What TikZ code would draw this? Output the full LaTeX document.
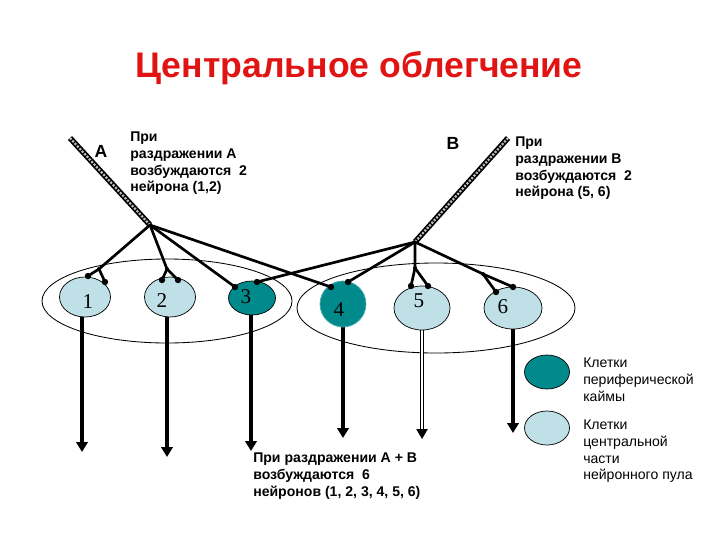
\documentclass[tikz,border=0pt]{standalone}
\usepackage{fontspec}
\setmainfont{Liberation Sans}
\newfontfamily\numfont{Liberation Serif}
\usetikzlibrary{shapes.geometric,arrows.meta}
\definecolor{tealc}{RGB}{0,138,140}
\definecolor{lightc}{RGB}{190,224,230}
\definecolor{titlered}{RGB}{225,20,20}
\begin{document}
\begin{tikzpicture}[x=0.025cm,y=-0.025cm,
  neur/.style n args={3}{ellipse, draw=black, line width=0.5pt, fill=#3,
     minimum width=#1*0.025cm, minimum height=#2*0.025cm, inner sep=0pt},
  pool/.style n args={2}{ellipse, draw=black, line width=0.6pt,
     minimum width=#1*0.025cm, minimum height=#2*0.025cm, inner sep=0pt},
  dotn/.style={circle, fill=black, inner sep=0pt, minimum size=0.16cm},
  forkn/.style={circle, fill=black, inner sep=0pt, minimum size=0.1cm},
  conn/.style={line width=1.9pt, line cap=round},
  axon/.style={line width=2.8pt, -{Triangle[width=8pt,length=7pt]}},
  fiberout/.style={line width=4pt},
  fiberin/.style={line width=1.6pt, gray!50, dash pattern=on 1.5pt off 1pt},
  num/.style={font=\numfont\fontsize{15}{15}\selectfont, inner sep=0pt},
  info/.style={font=\bfseries\fontsize{10}{11.8}\selectfont, align=left, anchor=north west, inner sep=0pt},
  legtxt/.style={font=\fontsize{10}{11.8}\selectfont, align=left, anchor=north west, inner sep=0pt},
  letter/.style={font=\bfseries\fontsize{12.5}{12.5}\selectfont, inner sep=0pt}
]
\useasboundingbox (0,0) rectangle (720,540);

% title
\node[font=\bfseries\fontsize{25.3}{30}\selectfont, text=titlered] (title) at (359,68) {Центральное облегчение};

% pools
\node[pool={250}{84}] (pool1) at (167,301) {};
\node[pool={278}{90}] (pool2) at (436,308) {};

% axon tips
\coordinate (t1) at (82,452);
\coordinate (t2) at (167,457);
\coordinate (t3) at (251,451);
\coordinate (t4) at (343,438);
\coordinate (t5) at (422,439);
\coordinate (a5) at (422,429);
\coordinate (t6) at (513,433);

% neuron positions (for axons)
\coordinate (c1) at (82,297);
\coordinate (c2) at (167,297);
\coordinate (c3) at (251,298);
\coordinate (c4) at (343,304);
\coordinate (c5) at (422,308);
\coordinate (c6) at (513,308);

\draw[axon] (c1) -- (t1);
\draw[axon] (c2) -- (t2);
\draw[axon] (c3) -- (t3);
\draw[axon] (c4) -- (t4);
\draw[line width=0.7pt, double=white, double distance=1.8pt] (c5) -- (a5);
\draw[line width=0.7pt, -{Triangle[width=8pt,length=7pt]}] (a5) -- (t5);
\draw[axon] (c6) -- (t6);

% neurons
\node[neur={51}{40}{lightc}] (n1) at (85,297) {};
\node[neur={51}{40}{lightc}] (n2) at (170,297) {};
\node[neur={47}{34}{tealc}] (n3) at (252,298) {};
\node[neur={46}{46}{tealc}, draw=tealc!70] (n4) at (343,304) {};
\node[neur={56}{44}{lightc}] (n5) at (422,308) {};
\node[neur={58}{42}{lightc}] (n6) at (513,308) {};

\node[num] (l1) at (88,302) {1};
\node[num] (l2) at (162,301) {2};
\node[num] (l3) at (246,297) {3};
\node[num] (l4) at (339,310) {4};
\node[num] (l5) at (419,301) {5};
\node[num] (l6) at (503,307) {6};

% input fibres
\coordinate (tA) at (70,138);
\coordinate (bA) at (150,225);
\coordinate (tB) at (508,138);
\coordinate (bB) at (415,242);
\draw[fiberout] (tA) -- (bA);
\draw[fiberin] (tA) -- (bA);
\draw[fiberout] (tB) -- (bB);
\draw[fiberin] (tB) -- (bB);

% synapse dots and forks
\node[dotn] (d1a) at (88,276) {};
\node[dotn] (d1b) at (105,282) {};
\node[forkn] (f1) at (99,269) {};
\node[dotn] (d2a) at (162,280) {};
\node[dotn] (d2b) at (178,280) {};
\node[forkn] (f2) at (167,269) {};
\node[dotn] (d3a) at (235,287) {};
\node[dotn] (d3b) at (257,282) {};
\node[dotn] (d4a) at (331,287) {};
\node[dotn] (d4b) at (348,282) {};
\node[dotn] (d5a) at (411,286) {};
\node[dotn] (d5b) at (428,286) {};
\node[forkn] (f5) at (415,268) {};
\node[dotn] (d6a) at (496,292) {};
\node[dotn] (d6b) at (513,287) {};
\node[forkn] (f6) at (483,274) {};

\draw[conn] (bA) -- (f1.center) -- (d1a.center);
\draw[conn] (f1.center) -- (d1b.center);
\draw[conn] (bA) -- (f2.center) -- (d2a.center);
\draw[conn] (f2.center) -- (d2b.center);
\draw[conn] (bA) -- (d3a.center);
\draw[conn] (bA) -- (d4a.center);
\draw[conn] (bB) -- (d3b.center);
\draw[conn] (bB) -- (d4b.center);
\draw[conn] (bB) -- (f5.center) -- (d5a.center);
\draw[conn] (f5.center) -- (d5b.center);
\draw[conn] (bB) -- (f6.center) -- (d6b.center);
\draw[conn] (f6.center) -- (d6a.center);

% letters
\node[letter] (A) at (101,151) {А};
\node[letter] (B) at (453,143) {В};

% texts
\node[info] (txtA) at (130,132) {При\\раздражении А\\возбуждаются~~2\\нейрона (1,2)};
\node[info] (txtB) at (515,137) {При\\раздражении В\\возбуждаются~~2\\нейрона (5, 6)};
\node[info, font=\bfseries\fontsize{10}{12}\selectfont] (txtAB) at (253,453) {При раздражении А + В\\возбуждаются~~6\\нейронов (1, 2, 3, 4, 5, 6)};

% legend
\node[neur={45}{34}{tealc}] (leg1) at (547,372) {};
\node[neur={45}{34}{lightc}] (leg2) at (547,428) {};
\node[legtxt] (legt1) at (583,358) {Клетки\\периферической\\каймы};
\node[legtxt] (legt2) at (583,420) {Клетки\\центральной\\части\\нейронного пула};
\end{tikzpicture}
\end{document}
